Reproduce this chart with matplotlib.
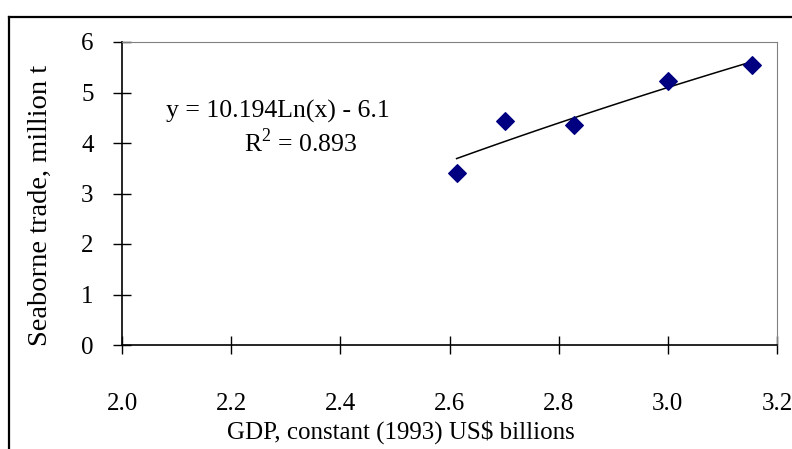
import numpy as np
import matplotlib
matplotlib.use("Agg")
import matplotlib.pyplot as plt
from matplotlib.lines import Line2D

plt.rcParams["font.family"] = ["Liberation Serif", "DejaVu Serif"]
plt.rcParams["mathtext.fontset"] = "custom"
plt.rcParams["mathtext.rm"] = "Liberation Serif"

# GDP (constant 1993 US$ billions) vs seaborne trade (million t)
gdp = [2.613, 2.702, 2.828, 3.001, 3.154]
trade = [3.41, 4.44, 4.36, 5.23, 5.55]

# logarithmic trendline: y = a*ln(x) + b
coef_a = 10.194
coef_b = -6.1
r_squared = 0.893

x_ticks = [2.0, 2.2, 2.4, 2.6, 2.8, 3.0, 3.2]
y_ticks = [0, 1, 2, 3, 4, 5, 6]

W, H = 792, 449


def px(x, y):
    # pixel position (from top-left) to figure fraction
    return x / W, 1 - y / H


fig = plt.figure(figsize=(W / 100, H / 100), dpi=100)
ax = fig.add_axes([122 / W, 1 - 345 / H, (777 - 122) / W, (345 - 42) / H])

ax.scatter(gdp, trade, marker="D", s=80, color="#000080", zorder=3, clip_on=False)
xf = np.linspace(min(gdp), max(gdp), 100)
ax.plot(xf, coef_a * np.log(xf) + coef_b, color="black", lw=1.1, zorder=2)

ax.set_xlim(2.0, 3.2)
ax.set_ylim(0, 6)
ax.set_xticks(x_ticks)
ax.set_xticklabels([f"{t:.1f}" for t in x_ticks])
ax.set_yticks(y_ticks)
ax.tick_params(direction="inout", length=13, width=1, labelsize=18, color="black")
ax.tick_params(axis="x", pad=28)
ax.tick_params(axis="y", pad=14)

for side in ("top", "right"):
    ax.spines[side].set_color("#808080")
for side in ("left", "bottom"):
    ax.spines[side].set_color("black")
    ax.spines[side].set_linewidth(1.2)

fig.text(*px(278, 111), f"y = {coef_a:.3f}Ln(x) - {abs(coef_b):.1f}",
         fontsize=18.5, ha="center", va="center")
fig.text(*px(301, 143), f"R$^\\mathrm{{2}}$ = {r_squared:.3f}", fontsize=18.5,
         ha="center", va="center")

fig.text(*px(40, 346), "Seaborne trade, million t", rotation=90,
         fontsize=20.5, ha="center", va="bottom")
fig.text(*px(401, 432), "GDP, constant (1993) US$ billions",
         fontsize=18, ha="center", va="center")

# chart frame, open on the right and bottom
fig.add_artist(Line2D([9 / W, 1.0], [1 - 17 / H] * 2, color="black", lw=1.6,
                      transform=fig.transFigure))
fig.add_artist(Line2D([9 / W] * 2, [0, 1 - 17 / H], color="black", lw=1.6,
                      transform=fig.transFigure))

fig.savefig("out.png", dpi=100)
